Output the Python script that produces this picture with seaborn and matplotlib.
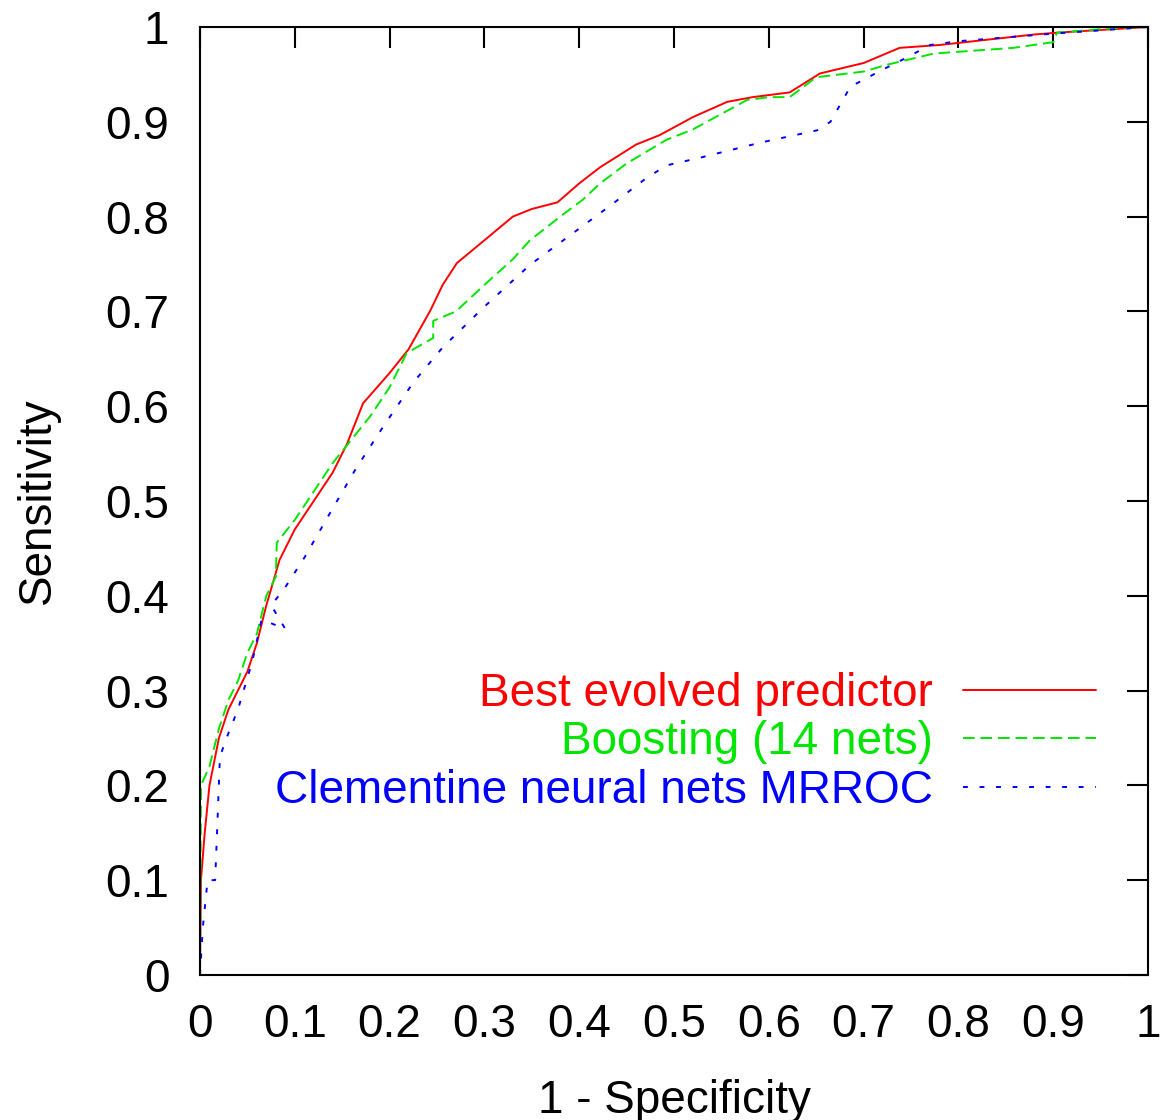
import pandas as pd
import matplotlib
matplotlib.use("Agg")
import matplotlib.pyplot as plt
from matplotlib.ticker import FormatStrFormatter, MultipleLocator
import seaborn as sns

# ROC curves
best_fpr = [0, 0.001, 0.005, 0.01, 0.02, 0.03, 0.05, 0.06, 0.07, 0.084, 0.1, 0.12,
            0.14, 0.155, 0.172, 0.2, 0.22, 0.243, 0.256, 0.271, 0.3, 0.33, 0.35, 0.377,
            0.4, 0.422, 0.46, 0.485, 0.52, 0.556, 0.583, 0.622, 0.654, 0.7, 0.738,
            0.78, 0.879, 0.904, 1]
best_tpr = [0, 0.1, 0.15, 0.2, 0.25, 0.28, 0.32, 0.35, 0.39, 0.438, 0.47, 0.5,
            0.53, 0.56, 0.603, 0.635, 0.66, 0.701, 0.728, 0.751, 0.775, 0.8, 0.808, 0.815,
            0.835, 0.852, 0.876, 0.886, 0.905, 0.921, 0.926, 0.931, 0.951, 0.962, 0.978,
            0.981, 0.992, 0.994, 1]

boost_fpr = [0, 0.001, 0.01, 0.02, 0.03, 0.04, 0.05, 0.06, 0.07, 0.08, 0.081, 0.1,
             0.12, 0.14, 0.16, 0.18, 0.2, 0.218, 0.246, 0.246, 0.27, 0.3, 0.33, 0.348,
             0.38, 0.404, 0.422, 0.45, 0.492, 0.52, 0.577, 0.6, 0.622, 0.65, 0.7,
             0.724, 0.774, 0.858, 0.9, 0.904, 0.967, 1]
boost_tpr = [0, 0.2, 0.22, 0.26, 0.29, 0.31, 0.34, 0.36, 0.4, 0.42, 0.456, 0.48,
             0.51, 0.54, 0.565, 0.59, 0.62, 0.656, 0.672, 0.69, 0.7, 0.728, 0.755, 0.775,
             0.8, 0.818, 0.835, 0.856, 0.881, 0.892, 0.923, 0.926, 0.926, 0.947, 0.953,
             0.96, 0.972, 0.978, 0.984, 0.994, 0.999, 1]

clem_fpr = [0, 0.003, 0.008, 0.016, 0.018, 0.021, 0.028, 0.04, 0.055, 0.065, 0.09,
            0.075, 0.088, 0.11, 0.137, 0.165, 0.193, 0.225, 0.256, 0.3, 0.348, 0.39,
            0.436, 0.47, 0.492, 0.527, 0.591, 0.651, 0.665, 0.686, 0.72, 0.746, 0.77,
            0.8, 0.9, 1]
clem_tpr = [0, 0.05, 0.1, 0.1, 0.15, 0.23, 0.25, 0.28, 0.33, 0.375, 0.365,
            0.39, 0.406, 0.44, 0.487, 0.535, 0.578, 0.625, 0.662, 0.705, 0.749, 0.78,
            0.814, 0.84, 0.854, 0.862, 0.878, 0.891, 0.9, 0.937, 0.955, 0.968, 0.981,
            0.985, 0.993, 1]

labels = ["Best evolved predictor", "Boosting (14 nets)", "Clementine neural nets MRROC"]

sns.set_theme(style="white")
plt.rcParams["font.family"] = ["Liberation Sans", "DejaVu Sans"]
plt.rcParams["text.color"] = "black"
plt.rcParams["axes.labelcolor"] = "black"

fig = plt.figure(figsize=(11.6, 11.2), dpi=100)
ax = fig.add_axes([0.1724, 0.1295, 0.8173, 0.8464])

series = [
    (best_fpr, best_tpr, "#ff0000", None),
    (boost_fpr, boost_tpr, "#00e600", (6, 3)),
    (clem_fpr, clem_tpr, "#0000ff", (2.5, 6)),
]
for (fx, fy, col, dash), lab in zip(series, labels):
    df = pd.DataFrame({"fpr": fx, "tpr": fy})
    sns.lineplot(data=df, x="fpr", y="tpr", sort=False, estimator=None,
                 color=col, linewidth=1.4, label=lab, ax=ax)
    if dash is not None:
        ax.lines[-1].set_dashes(dash)

ax.set_xlim(0, 1)
ax.set_ylim(0, 1)
ax.xaxis.set_major_locator(MultipleLocator(0.1))
ax.yaxis.set_major_locator(MultipleLocator(0.1))
ax.xaxis.set_major_formatter(FormatStrFormatter("%g"))
ax.yaxis.set_major_formatter(FormatStrFormatter("%g"))
ax.tick_params(direction="in", length=15, width=1.5, top=True, right=True,
               labelsize=33, colors="black")
ax.tick_params(axis="y", pad=22)
ax.tick_params(axis="x", pad=20)
for s in ax.spines.values():
    s.set_visible(True)
    s.set_linewidth(1.5)
    s.set_color("black")

ax.set_xlabel("1 - Specificity", fontsize=33)
ax.set_ylabel("Sensitivity", fontsize=33)
ax.xaxis.set_label_coords(0.5, -0.11)
ax.yaxis.set_label_coords(-0.148, 0.5)

leg = ax.legend(loc="lower right", bbox_to_anchor=(0.945, 0.171), frameon=False,
                markerfirst=False, labelcolor="linecolor", fontsize=33,
                handlelength=2.9, handletextpad=0.65, labelspacing=0.1,
                borderaxespad=0, borderpad=0)

fig.savefig("out.png", dpi=100)
